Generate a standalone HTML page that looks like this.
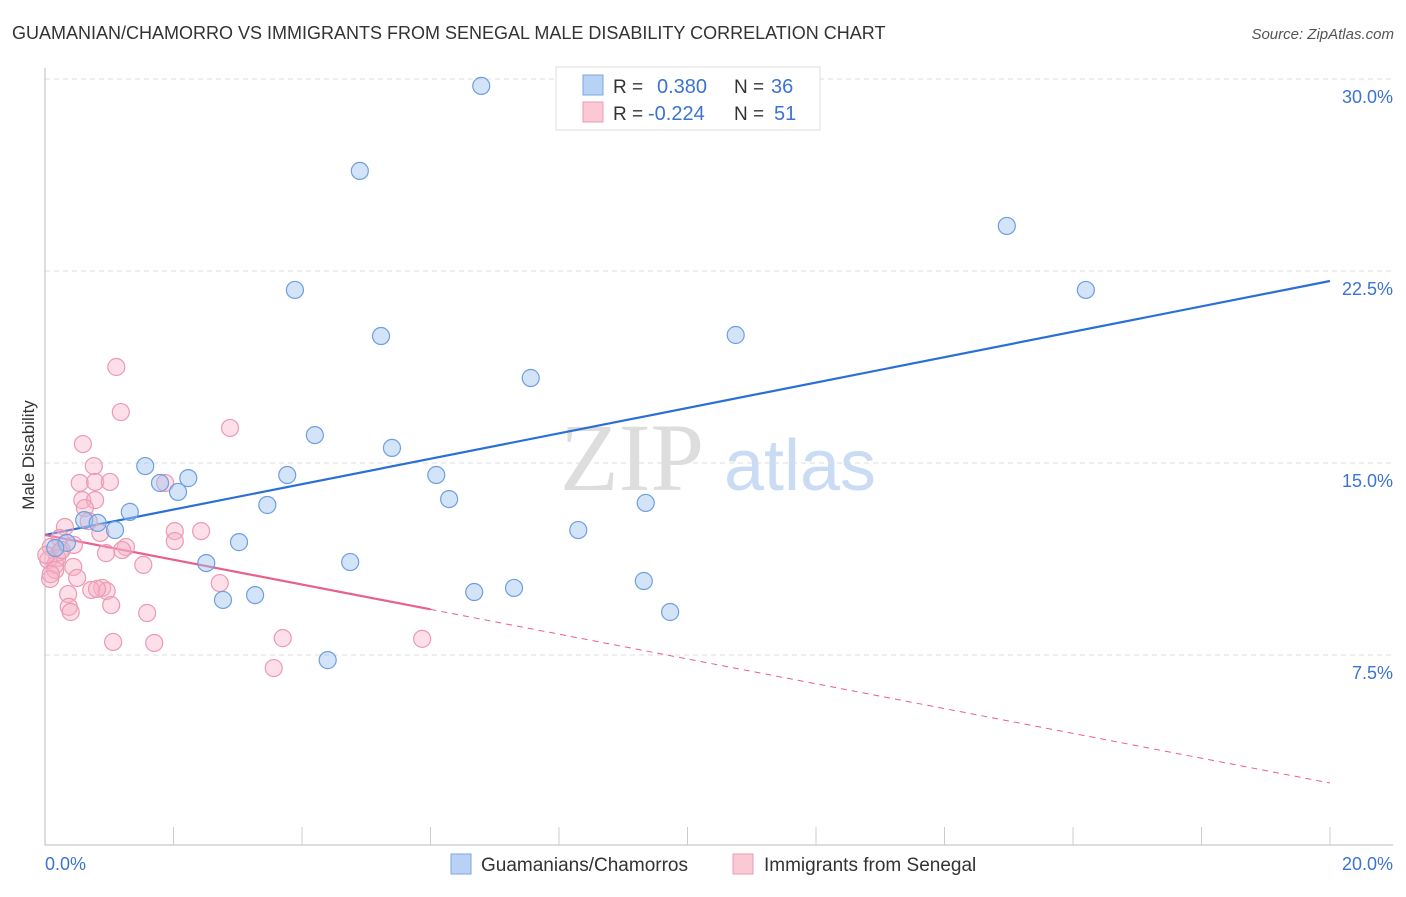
<!DOCTYPE html>
<html><head><meta charset="utf-8"><style>
body{margin:0;background:#fff;font-family:"Liberation Sans",sans-serif;}
svg text{font-family:"Liberation Sans",sans-serif;}
</style></head><body>
<svg id="chart" width="1406" height="892" xmlns="http://www.w3.org/2000/svg">
<text x="12" y="39" font-size="18" fill="#333">GUAMANIAN/CHAMORRO VS IMMIGRANTS FROM SENEGAL MALE DISABILITY CORRELATION CHART</text>
<text x="1394" y="39" font-size="15" fill="#555" text-anchor="end" font-style="italic">Source: ZipAtlas.com</text>
<text x="34" y="455" font-size="17" fill="#333" text-anchor="middle" transform="rotate(-90 34 455)">Male Disability</text>
<g>
<text x="632" y="490" font-size="96" fill="#ddd" text-anchor="middle" font-family="Liberation Serif" style="font-family:'Liberation Serif',serif">ZIP</text>
<text x="800" y="490" font-size="72" fill="#c9dcf3" text-anchor="middle">atlas</text>
</g>
<g id="grid"></g><g id="axes"></g><g id="lines"></g><g id="pts"></g>
<g>
<rect x="556" y="67" width="264" height="63" fill="#fff" stroke="#ddd"/>
<rect x="583" y="75" width="20" height="20" fill="#b8d2f5" stroke="#7aa6e3"/>
<rect x="583" y="102" width="20" height="20" fill="#fbc8d6" stroke="#ec9ab2"/>
<text x="613" y="93" font-size="19" fill="#333">R =</text>
<text x="657" y="93" font-size="20" fill="#3c73d0">0.380</text>
<text x="734" y="93" font-size="19" fill="#333">N =</text>
<text x="771" y="93" font-size="20" fill="#3c73d0">36</text>
<text x="613" y="120" font-size="19" fill="#333">R =</text>
<text x="648" y="120" font-size="20" fill="#3c73d0">-0.224</text>
<text x="734" y="120" font-size="19" fill="#333">N =</text>
<text x="774" y="120" font-size="20" fill="#3c73d0">51</text>
</g>
<g>
<rect x="451" y="854" width="20" height="20" fill="#b8d2f5" stroke="#7aa6e3"/>
<text x="481" y="871" font-size="19" fill="#333">Guamanians/Chamorros</text>
<rect x="733" y="854" width="20" height="20" fill="#fbc8d6" stroke="#ec9ab2"/>
<text x="764" y="871" font-size="19" fill="#333">Immigrants from Senegal</text>
</g>
</svg>
<script>
const blueX=[6.79,4.90,14.97,3.89,16.20,5.23,10.75,7.56,4.20,5.40,1.56,2.23,3.77,6.09,1.79,2.07,6.29,9.35,3.46,1.32,0.61,0.82,1.09,8.30,3.02,0.34,0.16,2.51,4.75,9.32,6.68,7.30,2.77,3.27,9.73,4.40];
const blueY=[29.73,26.41,24.26,21.76,21.76,19.96,20.0,18.32,16.09,15.59,14.88,14.41,14.53,14.53,14.22,13.87,13.59,13.44,13.36,13.09,12.77,12.66,12.38,12.38,11.91,11.88,11.68,11.09,11.13,10.39,9.96,10.12,9.65,9.84,9.18,7.30];
const pinkX=[1.11,1.18,2.88,0.59,0.76,0.54,0.78,1.01,1.87,0.58,0.78,0.62,0.68,0.31,0.86,2.02,2.43,0.23,2.02,0.45,1.26,1.20,0.95,0.09,0.23,0.19,0.05,0.16,1.53,0.44,0.16,0.50,0.08,2.72,0.89,0.72,0.96,0.81,0.36,1.03,0.37,0.40,1.59,1.06,1.70,3.70,5.87,3.56,0.09,0.26,0.02];
const pinkY=[18.75,16.99,16.37,15.74,14.88,14.22,14.26,14.26,14.22,13.55,13.55,13.24,12.73,12.50,12.27,12.34,12.34,12.07,11.95,11.80,11.72,11.60,11.48,11.72,11.52,11.29,11.21,11.02,11.02,10.94,10.82,10.51,10.47,10.31,10.12,10.04,10.0,10.08,9.88,9.45,9.38,9.18,9.14,8.01,7.97,8.16,8.13,6.99,10.66,11.60,11.41];
const blueTrend=[12.19,22.11];
const pinkTrend=[12.19,2.5];
const pinkSolidEnd=6.0;
const yTicks=[7.5,15.0,22.5,30.0];
const yTickLabels=["7.5%","15.0%","22.5%","30.0%"];
const xTickCount=10;
const NS="http://www.w3.org/2000/svg";
const X=v=>45+v/20*1285;
const Y=v=>847-v/7.5*192;
function mk(t,a,p){const e=document.createElementNS(NS,t);for(const k in a)e.setAttribute(k,a[k]);p.appendChild(e);return e;}
const grid=document.getElementById('grid'),axes=document.getElementById('axes'),lines=document.getElementById('lines'),pts=document.getElementById('pts');
yTicks.forEach((v,i)=>{
 const l=mk('line',{x1:45,x2:1393,y1:Y(v),y2:Y(v),stroke:'#ddd','stroke-dasharray':'5,4'},grid);
 
 
 const t=mk('text',{x:1393,y:Y(v)+24,'font-size':18,fill:'#3c73d0','text-anchor':'end'},axes);
 t.textContent=yTickLabels[i];
 
 
});
const ax=mk('line',{x1:45,x2:1393,y1:845,y2:845,stroke:'#bbb'},axes);


const ay=mk('line',{x1:45,x2:45,y1:68,y2:845,stroke:'#bbb'},axes);


for(let i=1;i<=xTickCount;i++){
 const tk=mk('line',{x1:X(i*2),x2:X(i*2),y1:827,y2:845,stroke:'#ccc'},axes);
 
 
}
const xl0=mk('text',{x:45,y:870,'font-size':18,fill:'#3c73d0'},axes);xl0.textContent='0.0%';


const xl1=mk('text',{x:1393,y:870,'font-size':18,fill:'#3c73d0','text-anchor':'end'},axes);xl1.textContent='20.0%';


pinkX.forEach((x,i)=>{
 const c=mk('circle',{cx:X(x),cy:Y(pinkY[i]),r:8.5,fill:'rgba(248,175,198,0.4)',stroke:'#eb9ab3','stroke-width':1.2},pts);
 
 
});
blueX.forEach((x,i)=>{
 const c=mk('circle',{cx:X(x),cy:Y(blueY[i]),r:8.5,fill:'rgba(160,195,240,0.45)',stroke:'#6d9fe0','stroke-width':1.2},pts);
 
 
});
const bl=mk('line',{x1:X(0),y1:Y(blueTrend[0]),x2:X(20),y2:Y(blueTrend[1]),stroke:'#2a6fd6','stroke-width':2.2},lines);


const pm=pinkTrend[0]+(pinkTrend[1]-pinkTrend[0])*pinkSolidEnd/20;
const pl=mk('line',{x1:X(0),y1:Y(pinkTrend[0]),x2:X(pinkSolidEnd),y2:Y(pm),stroke:'#e8608e','stroke-width':2.2},lines);


const pd=mk('line',{x1:X(pinkSolidEnd),y1:Y(pm),x2:X(20),y2:Y(pinkTrend[1]),stroke:'#e8608e','stroke-width':1,'stroke-dasharray':'6,5'},lines);


</script>
</body></html>
